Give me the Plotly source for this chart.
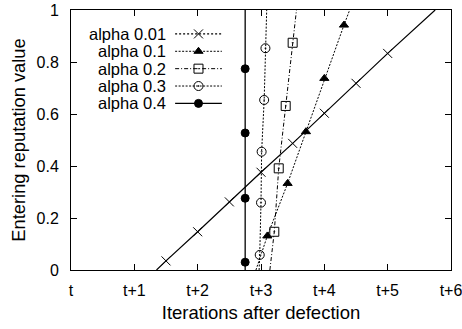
import plotly.graph_objects as go

# ---- data ----
x_ticks = [0, 1, 2, 3, 4, 5, 6]
x_tick_labels = ["t", "t+1", "t+2", "t+3", "t+4", "t+5", "t+6"]
y_ticks = [0, 0.2, 0.4, 0.6, 0.8, 1]
y_tick_labels = ["0", "0.2", "0.4", "0.6", "0.8", "1"]

series_names = ["alpha 0.01", "alpha 0.1", "alpha 0.2", "alpha 0.3", "alpha 0.4"]

# marker points
a001_x = [1.5, 2.0, 2.5, 3.0, 3.5, 4.0, 4.5, 5.0]
a001_y = [0.035, 0.147, 0.262, 0.376, 0.487, 0.603, 0.718, 0.833]
a01_x = [3.10, 3.42, 3.71, 4.00, 4.31]
a01_y = [0.131, 0.333, 0.532, 0.737, 0.942]
a02_x = [3.21, 3.28, 3.39, 3.50]
a02_y = [0.147, 0.391, 0.631, 0.874]
a03_x = [2.98, 3.00, 3.01, 3.05, 3.07]
a03_y = [0.058, 0.259, 0.455, 0.654, 0.853]
a04_x = [2.75, 2.75, 2.75, 2.75]
a04_y = [0.030, 0.276, 0.527, 0.774]

# curve end points (where each curve leaves the plot at y=0 and y=1)
a001_ends_x = [1.35, 5.75]
a01_ends_x = [2.92, 4.40]
a02_ends_x = [3.14, 3.56]
a03_ends_x = [2.97, 3.09]
a04_ends_x = [2.75, 2.75]
ends_y = [0, 1]

# ---- styles ----
styles = [
    dict(dash="solid", legend_dash="2px,2px", symbol="x-thin-open", size=9, width=1.2),
    dict(dash="2px,1.5px", legend_dash="2px,1.5px", symbol="triangle-up", size=8, width=1),
    dict(dash="4px,2px,1px,2px", legend_dash="4px,2px,1px,2px", symbol="square-open-dot", size=9, width=1),
    dict(dash="2px,1.5px", legend_dash="2px,1.5px", symbol="circle-open-dot", size=9, width=1),
    dict(dash="solid", legend_dash="solid", symbol="circle", size=8, width=1.3),
]

pts = [(a001_x, a001_y), (a01_x, a01_y), (a02_x, a02_y), (a03_x, a03_y), (a04_x, a04_y)]
ends = [a001_ends_x, a01_ends_x, a02_ends_x, a03_ends_x, a04_ends_x]

fig = go.Figure()

for (px, py), ex, st in zip(pts, ends, styles):
    cx = [ex[0]] + list(px) + [ex[1]]
    cy = [ends_y[0]] + list(py) + [ends_y[1]]
    fig.add_trace(go.Scatter(x=cx, y=cy, mode="lines",
                             line=dict(color="black", width=st["width"], dash=st["dash"]),
                             showlegend=False, hoverinfo="skip", cliponaxis=True))
    fig.add_trace(go.Scatter(x=px, y=py, mode="markers",
                             marker=dict(symbol=st["symbol"], size=st["size"], color="black",
                                         line=dict(color="black", width=1)),
                             showlegend=False))

# ---- manual gnuplot-style legend (text left of sample) on overlay axes ----
row0 = 0.908
row_step = 0.0668
text_right = 0.255
line_x0, line_x1, mark_x = 0.274, 0.397, 0.3355
font_family = "Liberation Sans, Arial, Helvetica, sans-serif"
annotations = []
for i, (name, st) in enumerate(zip(series_names, styles)):
    yy = row0 - i * row_step
    fig.add_trace(go.Scatter(x=[line_x0, line_x1], y=[yy, yy], mode="lines",
                             xaxis="x2", yaxis="y2",
                             line=dict(color="black", width=st["width"], dash=st["legend_dash"]),
                             showlegend=False, hoverinfo="skip"))
    fig.add_trace(go.Scatter(x=[mark_x], y=[yy], mode="markers", xaxis="x2", yaxis="y2",
                             marker=dict(symbol=st["symbol"], size=st["size"], color="black",
                                         line=dict(color="black", width=1)),
                             showlegend=False, hoverinfo="skip"))
    annotations.append(dict(x=text_right, y=yy, xref="x2", yref="y2", text=name,
                            showarrow=False, xanchor="right", yanchor="middle",
                            font=dict(size=16.5, color="black", family=font_family)))

fig.update_layout(
    width=462, height=329,
    margin=dict(l=71, r=11, t=10, b=59, autoexpand=False),
    paper_bgcolor="white", plot_bgcolor="white",
    showlegend=False,
    font=dict(family=font_family, color="black", size=16),
    annotations=annotations,
    xaxis=dict(range=[0, 6], tickvals=x_ticks, ticktext=x_tick_labels, automargin=False,
               showgrid=False, zeroline=False, showline=True, linecolor="black", linewidth=1,
               mirror="allticks", ticks="inside", ticklen=6, tickcolor="black",
               ticklabelstandoff=6, ticklabeloverflow="allow",
               title=dict(text="Iterations after defection", font=dict(size=18.5), standoff=7),
               tickfont=dict(size=16)),
    yaxis=dict(range=[0, 1], tickvals=y_ticks, ticktext=y_tick_labels, automargin=False,
               showgrid=False, zeroline=True, zerolinecolor="black", zerolinewidth=2,
               showline=True, linecolor="black", linewidth=1,
               mirror="allticks", ticks="inside", ticklen=6, tickcolor="black",
               ticklabelstandoff=8, ticklabeloverflow="allow",
               title=dict(text="Entering reputation value", font=dict(size=18.3), standoff=6),
               tickfont=dict(size=16)),
    xaxis2=dict(range=[0, 1], overlaying="x", visible=False, fixedrange=True),
    yaxis2=dict(range=[0, 1], overlaying="y", visible=False, fixedrange=True),
)

fig.write_html("out.html", config={"displayModeBar": False},
               post_script="document.body.style.margin='0';document.body.style.overflow='hidden';")
